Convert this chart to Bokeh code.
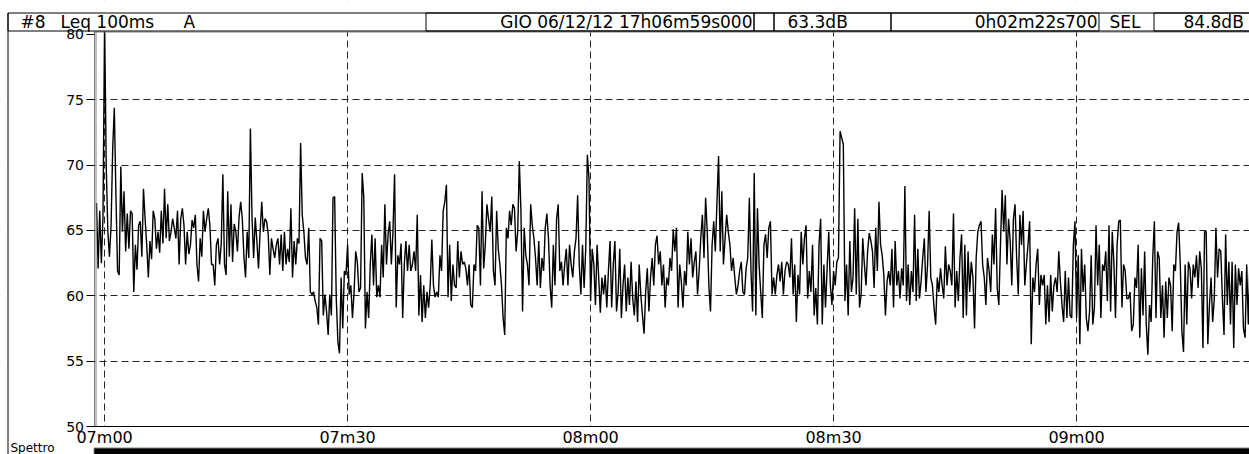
import numpy as np
from bokeh.plotting import figure
from bokeh.models import Range1d, FixedTicker
from bokeh.embed import file_html
from bokeh.resources import INLINE
from bokeh.core.properties import value

# ---------------- data ----------------
start_s = 419.0          # 17h06m59s000 -> 06m59s on the time axis
step_s = 0.2             # plotted sampling of the Leq 100ms trace

leq_db = [
    # 06m59 .. 07m27.8
    67.1, 62.1, 66.5, 62.5, 66.0, 81.0, 70.0, 64.9, 63.0, 65.4,
    71.3, 74.4, 67.7, 61.9, 61.6, 69.9, 64.9, 68.0, 63.4, 66.3,
    63.6, 66.5, 66.3, 60.3, 63.9, 62.0, 65.4, 65.7, 63.0, 68.2,
    65.9, 63.9, 61.4, 64.2, 62.8, 66.5, 65.9, 63.6, 64.9, 63.3,
    66.5, 64.0, 68.2, 64.4, 67.0, 64.2, 64.9, 65.9, 65.2, 64.4,
    66.5, 62.4, 65.9, 66.7, 65.4, 62.4, 64.9, 63.2, 63.9, 65.8,
    65.2, 66.2, 62.4, 61.1, 64.4, 63.0, 66.5, 64.9, 65.9, 66.7,
    65.4, 62.4, 62.4, 60.8, 63.9, 64.4, 62.4, 64.0, 69.3, 62.4,
    61.6, 68.0, 63.0, 67.0, 62.6, 65.5, 64.9, 63.4, 66.0, 67.2,
    65.9, 63.0, 61.4, 64.9, 62.9, 72.8, 66.0, 62.9, 66.0, 64.2,
    62.1, 64.9, 67.2, 64.9, 65.9, 65.7, 64.7, 61.6, 64.4, 63.6,
    62.9, 63.9, 64.4, 62.4, 64.7, 61.9, 64.9, 62.4, 63.6, 62.6,
    66.7, 61.4, 64.2, 62.4, 64.4, 64.0, 71.7, 66.2, 64.9, 62.9,
    62.4, 65.2, 60.3, 60.1, 60.3, 59.6, 59.1, 57.8, 64.4, 64.2,
    58.5, 60.1, 58.8, 57.0, 60.1,
    # 07m28 .. 08m01
    58.5, 67.5, 67.6, 59.8, 56.5, 55.6, 61.4, 57.5, 61.9, 61.6,
    63.9, 60.1, 60.8, 58.3, 60.3, 63.4, 62.6, 60.3, 60.6, 69.4,
    67.5, 57.5, 60.3, 58.3, 62.4, 64.7, 60.8, 64.4, 59.9, 60.8,
    59.9, 63.9, 61.4, 67.0, 62.4, 64.7, 65.7, 62.4, 64.9, 69.3,
    59.1, 63.1, 62.4, 64.0, 58.3, 62.4, 64.2, 61.9, 63.9, 61.9,
    62.4, 63.4, 61.9, 66.2, 58.5, 61.6, 58.0, 60.8, 58.3, 60.3,
    59.1, 60.8, 64.3, 60.8, 59.9, 60.3, 59.9, 63.1, 61.9, 66.5,
    67.2, 68.5, 59.9, 63.9, 59.6, 62.4, 60.8, 60.6, 64.2, 61.4,
    63.4, 62.4, 62.6, 62.1, 60.8, 62.4, 59.3, 59.1, 62.4, 61.9,
    65.4, 65.2, 60.8, 68.0, 62.1, 63.9, 67.0, 65.9, 64.9, 67.6,
    61.9, 60.8, 66.5, 63.6, 62.4, 60.8, 58.3, 57.0, 65.2, 64.4,
    66.5, 65.4, 67.0, 66.7, 63.4, 64.9, 70.3, 66.5, 58.8, 65.2,
    63.1, 62.4, 60.8, 67.0, 65.4, 64.4, 62.9, 60.8, 64.2, 60.6,
    62.9, 61.9, 65.2, 66.3, 64.4, 60.8, 59.1, 63.9, 60.8, 65.9,
    67.0, 61.9, 62.6, 60.8, 62.4, 63.6, 60.8, 63.9, 62.4, 61.4,
    63.4, 64.4, 67.7, 62.4, 60.1, 63.9, 60.6, 63.6, 70.8, 69.0,
    59.6, 63.6, 62.4, 59.3, 63.9, 61.4,
    # 08m01 .. 08m30
    58.7, 61.4, 60.1, 61.6, 59.1, 61.9, 64.2, 59.1, 62.4, 64.2,
    58.8, 60.3, 63.6, 58.3, 60.8, 62.4, 58.8, 61.4, 59.3, 62.6,
    59.8, 58.5, 61.1, 58.0, 62.4, 60.1, 58.5, 57.1, 60.3, 62.1,
    58.8, 61.4, 62.9, 60.8, 63.9, 64.6, 62.4, 63.4, 60.8, 62.4,
    59.1, 61.4, 60.8, 62.9, 61.9, 65.1, 63.4, 65.2, 59.1, 62.4,
    61.1, 59.1, 61.9, 60.8, 64.9, 62.4, 64.4, 61.4, 62.6, 63.4,
    60.1, 61.9, 64.4, 66.2, 62.9, 67.5, 64.9, 60.8, 58.8, 63.9,
    65.7, 63.4, 67.2, 70.7, 63.4, 68.0, 62.4, 64.4, 66.2, 64.9,
    63.9, 61.9, 62.9, 61.4, 60.1, 60.8, 61.9, 62.6, 60.3, 60.1,
    62.1, 62.9, 67.5, 61.9, 58.8, 69.4, 58.5, 66.7, 62.4, 60.3,
    58.3, 63.9, 64.7, 62.9, 65.2, 65.7, 60.1, 61.4, 60.1, 61.6,
    62.4, 61.1, 62.6, 60.1, 61.9, 62.6, 62.4, 61.4, 64.4, 60.1,
    62.4, 58.0, 61.6, 60.1, 64.9, 62.4, 64.4, 65.4, 59.8, 61.9,
    60.3, 63.9, 58.5, 60.6, 57.8, 63.9, 65.9, 57.8, 62.4, 59.1,
    62.1, 64.9, 60.8, 59.3,
    # 08m30 .. 09m01
    61.9, 60.8, 62.6, 62.9, 72.6, 72.1, 71.6, 59.6, 62.4, 58.5,
    64.2, 60.3, 61.4, 66.7, 60.1, 65.9, 59.1, 60.1, 64.4, 62.4,
    60.8, 63.4, 64.8, 64.2, 63.4, 60.6, 65.2, 61.9, 67.2, 63.9,
    63.1, 61.6, 58.5, 61.1, 61.9, 60.8, 63.6, 59.1, 64.2, 60.8,
    61.9, 59.8, 62.1, 60.8, 68.4, 59.6, 62.4, 59.3, 61.9, 60.3,
    66.2, 59.6, 63.6, 59.8, 61.1, 62.9, 64.4, 60.3, 62.4, 66.5,
    61.4, 60.8, 59.1, 57.8, 61.4, 60.3, 62.1, 60.8, 59.8, 63.8,
    60.8, 62.4, 61.9, 60.8, 66.3, 59.1, 61.9, 59.6, 62.9, 64.7,
    58.3, 63.9, 58.5, 63.4, 60.3, 62.6, 61.4, 57.5, 62.9, 64.9,
    65.4, 65.7, 62.4, 61.4, 59.3, 62.9, 61.9, 60.3, 64.7, 62.4,
    66.7, 60.6, 59.3, 63.9, 68.1, 64.9, 67.7, 62.4, 65.9, 64.2,
    60.8, 65.9, 67.0, 62.9, 60.1, 66.2, 63.9, 66.5, 60.8, 62.4,
    63.9, 65.7, 56.3, 61.4, 60.3, 62.4, 63.6, 59.3, 61.6, 60.8,
    61.6, 57.8, 60.8, 58.0, 61.6, 58.8, 60.8, 61.4, 60.3, 63.4,
    61.1, 59.3, 58.0, 61.9, 58.3, 61.4, 58.5, 58.3, 63.9, 65.7,
    58.3, 63.1, 56.3, 63.6, 60.3, 62.4, 58.3,
    # 09m01 .. 09m21
    57.3, 58.8, 63.1, 57.8, 59.1, 65.4, 60.8, 63.9, 58.3, 62.4,
    61.9, 63.4, 59.6, 65.4, 58.8, 64.9, 62.6, 58.3, 63.9, 65.7,
    65.8, 59.1, 62.4, 61.9, 59.8, 59.8, 60.3, 57.3, 57.8, 61.4,
    60.6, 63.9, 56.8, 62.1, 58.5, 63.4, 57.8, 55.5, 59.3, 58.0,
    62.9, 65.7, 58.3, 63.4, 62.9, 58.3, 60.8, 56.8, 61.1, 58.3,
    61.4, 60.8, 57.3, 62.4, 61.9, 64.9, 65.6, 62.4, 57.3, 55.7,
    62.4, 57.8, 62.6, 62.1, 59.8, 62.4, 61.4, 63.1, 60.6, 63.4,
    62.1, 56.0, 64.9, 64.9, 56.3, 59.3, 61.4, 58.0, 59.8, 65.2,
    61.4, 63.6, 63.4, 59.8, 57.0, 64.7, 59.3, 62.6, 57.8, 62.6,
    56.0, 62.4, 59.3, 62.1, 60.8, 61.9, 57.5, 56.8, 62.4, 57.8,
    62.6,
]

x_ticks = [420, 450, 480, 510, 540]
x_tick_labels = ["07m00", "07m30", "08m00", "08m30", "09m00"]
y_ticks = [50, 55, 60, 65, 70, 75, 80]
y_grid_ticks = [55, 60, 65, 70, 75]

hdr_title = ["#8", "Leq 100ms", "A"]
hdr_start = "GIO 06/12/12 17h06m59s000"
hdr_leq = "63.3dB"
hdr_dur = "0h02m22s700"
hdr_sel_label = "SEL"
hdr_sel = "84.8dB"
strip_label = "Spettro"

# ---------------- geometry (page pixels -> data units) ----------------
FONT = "DejaVu Sans"
W, H = 1249, 454
PX_PER_S = 8.1        # horizontal scale
PX_PER_DB = 13.067    # vertical scale
T0_PX = 96            # page x of the first sample
Y50_PX = 426          # page y of 50 dB (the time axis)
AXIS_X_PX = 93        # page x of the dB axis
TOP_PX = 31           # page y of the top of the plot area


def X(px):
    return start_s + (px - T0_PX) / PX_PER_S


def Y(py):
    return 50 + (Y50_PX - py) / PX_PER_DB


t = start_s + step_s * np.arange(len(leq_db))

p = figure(width=W, height=H, x_range=Range1d(X(0), X(W)), y_range=Range1d(Y(H), Y(0)),
           output_backend="svg", toolbar_location=None, min_border=0)
p.outline_line_color = None
p.background_fill_color = "white"
p.border_fill_color = "white"

# ---- trace ----
p.line(t, leq_db, line_color="black", line_width=1.4)

# ---- white masks to limit grid / clip the trace to the plot area ----
mask = dict(fill_color="white", line_color=None)
p.quad(left=[X(-5)], right=[X(W + 5)], top=[Y(-5)], bottom=[Y(TOP_PX)], **mask)
p.quad(left=[X(-5)], right=[X(AXIS_X_PX)], top=[Y(TOP_PX)], bottom=[Y(H + 5)], **mask)
p.quad(left=[X(AXIS_X_PX)], right=[X(W + 5)], top=[Y(Y50_PX)], bottom=[Y(H + 5)], **mask)

# ---- plot frame decorations ----
p.segment(x0=[X(AXIS_X_PX + 2.5), X(AXIS_X_PX)], y0=[Y(TOP_PX), Y(TOP_PX + 0.5)],
          x1=[X(AXIS_X_PX + 2.5), X(W + 5)], y1=[Y(Y50_PX), Y(TOP_PX + 0.5)],
          line_color="#808080", line_width=1)
# outer frame left line
p.segment(x0=[X(7.5)], y0=[Y(12.5)], x1=[X(7.5)], y1=[Y(H + 5)],
          line_color="black", line_width=1)

# ---- header ----
p.quad(left=[X(7.5)], right=[X(W + 5)], top=[Y(12.5)], bottom=[Y(30.5)],
       fill_color=None, line_color="black", line_width=1)
bl = [425.5, 753.5, 773.5, 890.5, 1153.5]
br = [753.5, 773.5, 890.5, 1098.5, W + 5]
p.quad(left=[X(v) for v in bl], right=[X(v) for v in br],
       top=[Y(12.5)] * 5, bottom=[Y(30.5)] * 5,
       fill_color=None, line_color="black", line_width=1)
TY = Y(21.5)
HDR_FS = "17px"
p.text(x=[X(20), X(60), X(183)], y=[TY] * 3, text=hdr_title,
       text_font=value(FONT), text_font_size=HDR_FS, text_color="black",
       text_baseline="middle", text_align="left")
p.text(x=[X(752), X(1097)], y=[TY] * 2, text=[hdr_start, hdr_dur],
       text_font=value(FONT), text_font_size=HDR_FS, text_color="black",
       text_baseline="middle", text_align="right")
p.text(x=[X(787), X(1109), X(1183)], y=[TY] * 3, text=[hdr_leq, hdr_sel_label, hdr_sel],
       text_font=value(FONT), text_font_size=HDR_FS, text_color="black",
       text_baseline="middle", text_align="left")

# ---- "Spettro" strip at the bottom ----
p.quad(left=[X(93.5)], right=[X(W + 5)], top=[Y(447.5)], bottom=[Y(H + 10)],
       fill_color="black", line_color="#808080", line_width=1)
p.text(x=[X(10)], y=[Y(H)], text=[strip_label], text_font=value(FONT),
       text_font_size="12px", text_color="black", text_baseline="bottom",
       text_align="left")

# ---- grid ----
p.xgrid.ticker = FixedTicker(ticks=x_ticks)
p.ygrid.ticker = FixedTicker(ticks=y_grid_ticks)
for g in (p.xgrid, p.ygrid):
    g.grid_line_color = "black"
    g.grid_line_alpha = 0.85
    g.grid_line_dash = "7 4"
    g.grid_line_width = 1

# ---- axes, drawn at fixed positions inside the canvas ----
p.xaxis.fixed_location = 50
p.xaxis.bounds = (X(AXIS_X_PX), X(W + 5))
p.xaxis.ticker = FixedTicker(ticks=x_ticks)
p.xaxis.major_label_overrides = dict(zip(x_ticks, x_tick_labels))
p.xaxis.major_label_text_font = FONT
p.xaxis.major_label_text_font_size = "16px"
p.xaxis.major_label_text_color = "black"
p.xaxis.major_label_standoff = 1
p.xaxis.major_tick_out = 0
p.xaxis.major_tick_in = 0
p.xaxis.minor_tick_line_color = None
p.xaxis.axis_line_color = "black"

p.yaxis.fixed_location = X(AXIS_X_PX + 0.5)
p.yaxis.bounds = (50, Y(TOP_PX))
p.yaxis.ticker = FixedTicker(ticks=y_ticks)
p.yaxis.major_label_text_font = FONT
p.yaxis.major_label_text_font_size = "14px"
p.yaxis.major_label_text_color = "black"
p.yaxis.major_label_standoff = 2
p.yaxis.major_tick_out = 8
p.yaxis.major_tick_in = 0
p.yaxis.major_tick_line_color = "black"
p.yaxis.minor_tick_line_color = None
p.yaxis.axis_line_color = "#808080"

open("out.html", "w").write(file_html(p, INLINE))
